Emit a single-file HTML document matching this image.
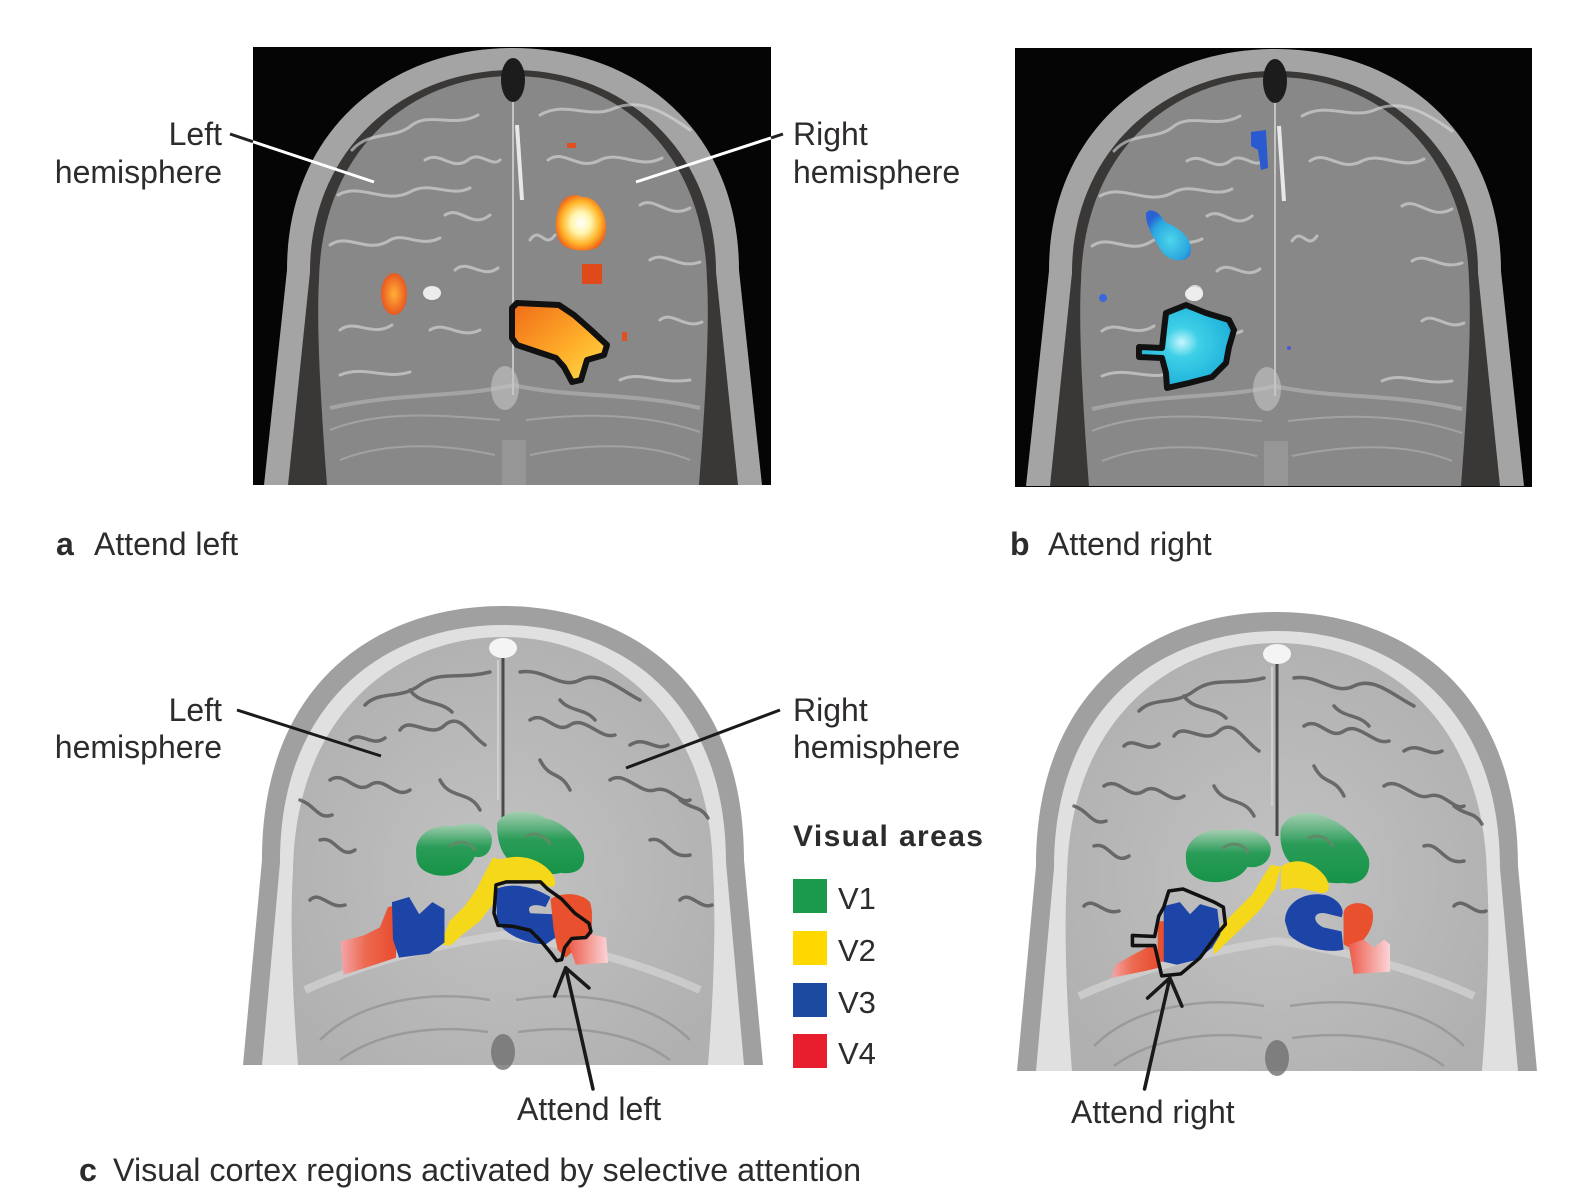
<!DOCTYPE html>
<html><head><meta charset="utf-8">
<style>
html,body{margin:0;padding:0;background:#fff;}
svg{display:block;}
text{font-family:"Liberation Sans",Arial,sans-serif;fill:#2e2b2c;}
</style></head><body>
<svg width="1584" height="1194" viewBox="0 0 1584 1194" xmlns="http://www.w3.org/2000/svg" xmlns:xlink="http://www.w3.org/1999/xlink">
<defs>
  <radialGradient id="gBig" cx="0.5" cy="0.5" r="0.55">
    <stop offset="0" stop-color="#ffffff"/>
    <stop offset="0.35" stop-color="#fff6b0"/>
    <stop offset="0.7" stop-color="#ffb52a"/>
    <stop offset="1" stop-color="#ee5a18"/>
  </radialGradient>
  <radialGradient id="gLeftA" cx="0.5" cy="0.5" r="0.6">
    <stop offset="0" stop-color="#ffb036"/>
    <stop offset="1" stop-color="#e5461c"/>
  </radialGradient>
  <linearGradient id="gOutA" x1="0" y1="0" x2="1" y2="1">
    <stop offset="0" stop-color="#f06a18"/>
    <stop offset="0.6" stop-color="#ffb02a"/>
    <stop offset="1" stop-color="#ffe050"/>
  </linearGradient>
  <radialGradient id="gCyan" cx="0.45" cy="0.45" r="0.6">
    <stop offset="0" stop-color="#c8f6ff"/>
    <stop offset="0.3" stop-color="#3ed0e6"/>
    <stop offset="0.85" stop-color="#22b4dc"/>
    <stop offset="1" stop-color="#1a7ed0"/>
  </radialGradient>
  <radialGradient id="gUpB" cx="0.55" cy="0.6" r="0.6">
    <stop offset="0" stop-color="#4cd6ea"/>
    <stop offset="0.7" stop-color="#2aa6e0"/>
    <stop offset="1" stop-color="#2a62d4"/>
  </radialGradient>
  <linearGradient id="gGreen" x1="0" y1="0" x2="0" y2="1">
    <stop offset="0" stop-color="#a6cfb2"/>
    <stop offset="0.45" stop-color="#2a9c58"/>
    <stop offset="1" stop-color="#169448"/>
  </linearGradient>
  <linearGradient id="gRedL" x1="0" y1="0" x2="1" y2="0">
    <stop offset="0" stop-color="#f5a6ac"/>
    <stop offset="0.45" stop-color="#ec6a50"/>
    <stop offset="1" stop-color="#e84c2e"/>
  </linearGradient>
  <linearGradient id="gRedR" x1="0" y1="0" x2="1" y2="0">
    <stop offset="0" stop-color="#ec5a48"/>
    <stop offset="1" stop-color="#fbd4d8"/>
  </linearGradient>
  <radialGradient id="gT1" cx="0.5" cy="0.55" r="0.6">
    <stop offset="0" stop-color="#c2c2c2"/>
    <stop offset="1" stop-color="#b0b0b0"/>
  </radialGradient>

  <g id="t2head">
    <path d="M264 485 L287 270 C287 130 390 48 513 48 C636 48 739 130 739 270 L762 485 Z" fill="#a4a4a4"/>
    <path d="M288 485 L310 272 C310 150 402 70 513 70 C624 70 716 150 716 272 L738 485 Z" fill="#3a3737"/>
    <path d="M327 485 C322 420 316 330 319 280 C322 150 410 76 513 76 C616 76 704 150 707 280 C710 330 704 420 699 485 Z" fill="#888888"/>
    <g fill="none" stroke="#dedede" stroke-width="3" stroke-linecap="round" opacity="0.6">
      <path d="M352 150 C370 130 395 140 412 125 C430 112 455 128 478 115"/>
      <path d="M338 195 C360 182 385 205 410 192 C430 180 450 198 470 188"/>
      <path d="M330 245 C348 232 368 255 390 240 C405 232 420 248 440 238"/>
      <path d="M340 330 C355 318 372 338 392 325"/>
      <path d="M425 160 C440 150 452 172 468 160 C480 150 492 168 500 160"/>
      <path d="M445 215 C460 205 472 230 490 215"/>
      <path d="M455 270 C468 258 482 280 498 268"/>
      <path d="M540 115 C565 100 590 120 615 108 C640 98 665 112 690 130"/>
      <path d="M548 160 C565 148 578 172 600 160 C620 150 640 170 662 158"/>
      <path d="M640 205 C655 195 668 220 690 208"/>
      <path d="M650 260 C665 250 678 270 700 262"/>
      <path d="M660 320 C672 310 685 330 702 322"/>
      <path d="M530 240 C540 225 545 250 555 235"/>
      <path d="M620 380 C640 370 660 385 690 380"/>
      <path d="M340 375 C365 365 385 380 410 372"/>
      <path d="M430 330 C445 320 460 340 480 330"/>
    </g>
    <g fill="none" stroke="#b4b4b4" stroke-width="2" opacity="0.6">
      <path d="M330 430 C380 410 440 415 500 420"/>
      <path d="M526 420 C590 412 650 415 700 432"/>
      <path d="M340 460 C390 440 450 445 495 455"/>
      <path d="M530 455 C580 445 640 440 690 460"/>
    </g>
    <path d="M330 408 C400 392 460 398 513 385 C570 398 630 392 700 408" fill="none" stroke="#b8b8b8" stroke-width="4" opacity="0.6"/>
    <line x1="513" y1="100" x2="513" y2="395" stroke="#c4c4c4" stroke-width="2"/>
    <ellipse cx="513" cy="80" rx="12" ry="22" fill="#1c1c1c"/>
    <ellipse cx="432" cy="293" rx="9" ry="7" fill="#ececec"/>
    <path d="M517 125 L522 200" stroke="#e8e8e8" stroke-width="4"/>
    <ellipse cx="505" cy="388" rx="14" ry="22" fill="#c6c6c6" opacity="0.6"/>
    <rect x="502" y="440" width="24" height="45" fill="#a4a4a4" opacity="0.5"/>
  </g>

  <g id="t1head">
    <path d="M243 1065 L262 860 C262 680 380 606 503 606 C626 606 744 680 744 860 L763 1065 Z" fill="#a0a0a0"/>
    <path d="M262 1065 L280 862 C280 697 390 625 503 625 C616 625 726 697 726 862 L744 1065 Z" fill="#e0e0e0"/>
    <path d="M298 1065 C292 990 290 920 293 870 C296 712 398 637 503 637 C608 637 710 712 713 870 C716 920 714 990 708 1065 Z" fill="url(#gT1)"/>
    <g fill="none" stroke="#4e4e4e" stroke-width="3.5" stroke-linecap="round" opacity="0.75">
      <path d="M365 705 C380 690 400 700 420 685 C440 670 460 680 490 672"/>
      <path d="M520 672 C545 668 560 690 580 680 C600 670 620 690 640 700"/>
      <path d="M400 730 C410 715 430 740 445 725 C460 712 470 735 485 745"/>
      <path d="M530 720 C545 710 555 735 570 725 C585 715 600 740 615 735"/>
      <path d="M330 780 C345 770 355 795 370 785 C385 775 395 800 410 790"/>
      <path d="M610 780 C625 770 640 795 655 790 C670 785 680 805 690 800"/>
      <path d="M440 780 C450 800 470 790 480 810"/>
      <path d="M540 760 C550 780 560 770 570 790"/>
      <path d="M320 840 C335 835 340 860 355 850"/>
      <path d="M650 840 C665 835 670 860 690 855"/>
      <path d="M310 900 C320 890 330 910 345 905"/>
      <path d="M680 900 C690 890 700 910 712 905"/>
      <path d="M350 740 C360 730 372 748 385 738"/>
      <path d="M630 745 C645 735 655 752 668 745"/>
      <path d="M410 690 C420 705 440 700 452 712"/>
      <path d="M560 700 C570 712 585 708 595 720"/>
      <path d="M300 800 C315 805 318 820 332 815"/>
      <path d="M680 800 C692 810 700 805 708 818"/>
    </g>
    <path d="M305 990 C360 965 430 945 503 935 C576 945 646 965 700 990" fill="none" stroke="#d4d4d4" stroke-width="8" opacity="0.7"/>
    <g fill="none" stroke="#8a8a8a" stroke-width="2.5" opacity="0.6">
      <path d="M320 1040 C360 1000 430 990 490 1000"/>
      <path d="M516 1000 C580 990 650 1000 690 1040"/>
      <path d="M340 1060 C380 1030 440 1025 488 1032"/>
      <path d="M518 1032 C570 1025 630 1030 670 1060"/>
    </g>
    <ellipse cx="503" cy="1052" rx="12" ry="18" fill="#707070" opacity="0.8"/>
    <line x1="503" y1="648" x2="503" y2="830" stroke="#4a4a4a" stroke-width="3"/>
    <line x1="498" y1="660" x2="498" y2="800" stroke="#cfcfcf" stroke-width="2"/>
    <ellipse cx="503" cy="648" rx="14" ry="10" fill="#f4f4f4"/>
  </g>
</defs>

<rect width="1584" height="1194" fill="#fff"/>

<!-- Panel a -->
<rect x="253" y="47" width="518" height="438" fill="#050505"/>
<use xlink:href="#t2head"/>
<rect x="567" y="143" width="9" height="5" fill="#e05020"/>
<rect x="622" y="332" width="5" height="9" fill="#e05020"/>
<path d="M560 205 C565 195 575 193 582 197 C592 196 600 205 604 215 C608 228 606 240 598 247 C590 252 572 252 563 245 C555 238 553 222 560 205 Z" fill="url(#gBig)"/>
<ellipse cx="394" cy="294" rx="13" ry="21" fill="url(#gLeftA)"/>
<rect x="582" y="264" width="20" height="20" fill="#e04a1a"/>
<path d="M512 308 L517 303 L559 305 L574 315 L591 330 L607 345 L604 355 L587 360 L581 380 L572 382 L564 367 L556 358 L517 345 L512 338 Z" fill="url(#gOutA)" stroke="#111" stroke-width="6" stroke-linejoin="round"/>

<!-- Panel b -->
<rect x="1015" y="48" width="517" height="439" fill="#050505"/>
<use xlink:href="#t2head" transform="translate(762,1)"/>
<ellipse cx="1195" cy="293" rx="8" ry="8" fill="#eeeeee" opacity="0.8"/>
<path d="M1251 132 L1266 130 L1268 168 L1261 170 L1258 150 L1251 146 Z" fill="#2a5ad0"/>
<path d="M1146 213 C1150 207 1160 212 1165 222 C1180 228 1195 240 1190 255 C1185 263 1170 262 1162 252 C1155 240 1145 225 1146 213 Z" fill="url(#gUpB)"/>
<circle cx="1103" cy="298" r="4" fill="#3a68d8"/>
<circle cx="1289" cy="348" r="2" fill="#4a5ad8"/>
<path d="M1166 313 L1186 305 L1206 313 L1229 320 L1234 330 L1229 347 L1226 363 L1212 377 L1189 383 L1167 388 L1166 373 L1162 358 L1139 357 L1139 347 L1162 348 L1164 330 Z" fill="url(#gCyan)" stroke="#111" stroke-width="6" stroke-linejoin="round"/>

<!-- labels a/b -->
<line x1="230" y1="134" x2="253" y2="141.7" stroke="#222" stroke-width="3"/>
<line x1="253" y1="141.7" x2="374" y2="182" stroke="#fff" stroke-width="3"/>
<line x1="783" y1="134" x2="771" y2="137.9" stroke="#222" stroke-width="3"/>
<line x1="771" y1="137.9" x2="636" y2="182" stroke="#fff" stroke-width="3"/>
<text x="222" y="145" font-size="32" text-anchor="end">Left</text>
<text x="222" y="183" font-size="32" text-anchor="end">hemisphere</text>
<text x="793" y="145" font-size="32">Right</text>
<text x="793" y="183" font-size="32">hemisphere</text>
<text x="56" y="555" font-size="32" font-weight="bold">a</text>
<text x="94" y="555" font-size="32">Attend left</text>
<text x="1010" y="555" font-size="32" font-weight="bold">b</text>
<text x="1048" y="555" font-size="32">Attend right</text>

<!-- Panel c heads -->
<use xlink:href="#t1head"/>
<use xlink:href="#t1head" transform="translate(774,6)"/>

<g transform="scale(1.0102)">
  <!-- c-left overlays -->
  <path d="M412 845 C410 825 430 815 450 818 C465 812 485 815 487 830 C487 845 478 850 470 848 C465 860 450 870 430 866 C415 862 412 855 412 845 Z" fill="url(#gGreen)"/>
  <path d="M492 815 C500 800 525 800 540 810 C555 812 575 830 578 845 C580 860 570 866 555 864 C540 868 520 862 510 855 C498 850 492 835 492 815 Z" fill="url(#gGreen)"/>
  <path d="M445 838 C455 830 466 834 470 842 M520 828 C530 822 540 828 545 836" fill="none" stroke="#5f8a68" stroke-width="3"/>
  <path d="M436 935 L445 912 L460 897 L472 880 L482 860 L488 849 L497 851 L495 875 L488 895 L475 912 L458 925 L446 936 Z" fill="#f6d81a"/>
  <path d="M491 853 C505 846 525 846 540 858 C548 865 552 872 548 878 L535 876 C522 870 505 872 493 876 Z" fill="#f6d81a"/>
  <path d="M337 932 L360 926 L376 918 L384 898 L392 896 L392 948 L380 952 L340 965 Z" fill="url(#gRedL)"/>
  <path d="M388 893 L405 888 L415 905 L428 893 L440 900 L440 933 L425 944 L395 948 L389 930 Z" fill="#1d45a8"/>
  <path d="M491 880 C505 874 525 876 545 888 L540 898 C530 894 520 896 525 904 L548 905 L550 928 L540 935 C520 934 500 925 492 912 Z" fill="#1d45a8"/>
  <path d="M545 890 C555 883 575 883 584 893 C588 905 585 915 586 925 L575 935 L560 948 L552 940 L548 920 Z" fill="#e8502e"/>
  <path d="M562 932 L585 925 L600 928 L602 953 L570 955 Z" fill="url(#gRedR)"/>
  <path d="M491 876 L501 873 L535 873 L542 880 L556 890 L569 904 L583 914 L585 922 L580 928 L566 929 L559 938 L556 950 L551 951 L545 943 L535 931 L525 921 L508 917 L493 916 L489 904 Z" fill="none" stroke="#111" stroke-width="3.5" stroke-linejoin="round"/>

  <!-- c-right overlays -->
  <path d="M1174 850 C1172 830 1195 818 1215 822 C1235 818 1256 825 1258 840 C1258 855 1245 860 1235 858 C1228 870 1210 876 1192 872 C1178 868 1174 860 1174 850 Z" fill="url(#gGreen)"/>
  <path d="M1268 820 C1275 803 1300 800 1315 810 C1330 815 1350 835 1355 850 C1358 868 1345 877 1330 874 C1312 876 1292 868 1282 858 C1270 850 1266 835 1268 820 Z" fill="url(#gGreen)"/>
  <path d="M1210 840 C1220 832 1232 836 1236 845 M1295 830 C1305 824 1315 830 1320 838" fill="none" stroke="#5f8a68" stroke-width="3"/>
  <path d="M1200 925 L1220 905 L1240 885 L1252 865 L1258 856 L1268 858 L1262 880 L1248 900 L1230 918 L1212 935 L1202 945 Z" fill="#f6d81a"/>
  <path d="M1268 858 C1282 848 1300 852 1312 868 C1318 878 1316 884 1308 884 L1290 880 C1282 878 1272 880 1268 882 Z" fill="#f6d81a"/>
  <path d="M1100 968 L1104 955 L1120 946 L1135 938 L1145 936 L1147 958 L1130 962 Z" fill="url(#gRedL)"/>
  <rect x="1146" y="912" width="7" height="40" fill="#e8502e"/>
  <path d="M1152 897 L1168 893 L1178 905 L1188 895 L1205 900 L1208 925 L1200 938 L1185 950 L1165 955 L1152 952 Z" fill="#1d45a8"/>
  <path d="M1272 912 C1272 893 1292 882 1312 886 C1325 890 1332 900 1328 908 L1312 904 C1300 902 1298 912 1310 918 L1328 922 L1330 940 C1310 945 1285 935 1276 925 Z" fill="#1d45a8"/>
  <path d="M1330 905 C1330 893 1350 890 1358 900 C1362 912 1355 925 1350 930 L1340 940 L1330 935 Z" fill="#e8502e"/>
  <path d="M1335 935 L1350 930 L1360 938 L1370 930 L1376 935 L1376 962 L1340 964 Z" fill="url(#gRedR)"/>
  <path d="M1152 898 L1157 882 L1171 880 L1202 893 L1211 898 L1213 915 L1207 922 L1202 929 L1188 948 L1169 964 L1150 966 L1147 953 L1143 936 L1121 936 L1121 926 L1143 927 L1147 907 Z" fill="none" stroke="#111" stroke-width="3.5" stroke-linejoin="round"/>

  <!-- arrows -->
  <g stroke="#1a1a1a" stroke-width="3.5" fill="none" stroke-linecap="round" stroke-linejoin="round">
    <line x1="587" y1="1078" x2="560" y2="958"/>
    <polyline points="549,986 560,958 583,978"/>
    <line x1="1133" y1="1078" x2="1158" y2="968"/>
    <polyline points="1136,988 1158,968 1170,996"/>
  </g>
</g>

<!-- c labels -->
<line x1="237" y1="710" x2="381" y2="756" stroke="#1a1a1a" stroke-width="3"/>
<line x1="780" y1="710" x2="626" y2="768" stroke="#1a1a1a" stroke-width="3"/>
<text x="222" y="721" font-size="32" text-anchor="end">Left</text>
<text x="222" y="758" font-size="32" text-anchor="end">hemisphere</text>
<text x="793" y="721" font-size="32">Right</text>
<text x="793" y="758" font-size="32">hemisphere</text>
<text x="517" y="1120" font-size="32">Attend left</text>
<text x="1071" y="1123" font-size="32">Attend right</text>

<!-- legend -->
<text x="793" y="846" font-size="30" font-weight="bold" letter-spacing="1.4">Visual areas</text>
<rect x="793" y="879" width="34" height="34" fill="#1c9a4c"/>
<rect x="793" y="931" width="34" height="34" fill="#ffd800"/>
<rect x="793" y="983" width="34" height="34" fill="#1b4aa0"/>
<rect x="793" y="1034" width="34" height="34" fill="#e81e2e"/>
<text x="838" y="909" font-size="31">V1</text>
<text x="838" y="961" font-size="31">V2</text>
<text x="838" y="1013" font-size="31">V3</text>
<text x="838" y="1064" font-size="31">V4</text>

<!-- caption c -->
<text x="79" y="1181" font-size="32.3" font-weight="bold">c</text>
<text x="113" y="1181" font-size="32.3">Visual cortex regions activated by selective attention</text>
</svg>
</body></html>
